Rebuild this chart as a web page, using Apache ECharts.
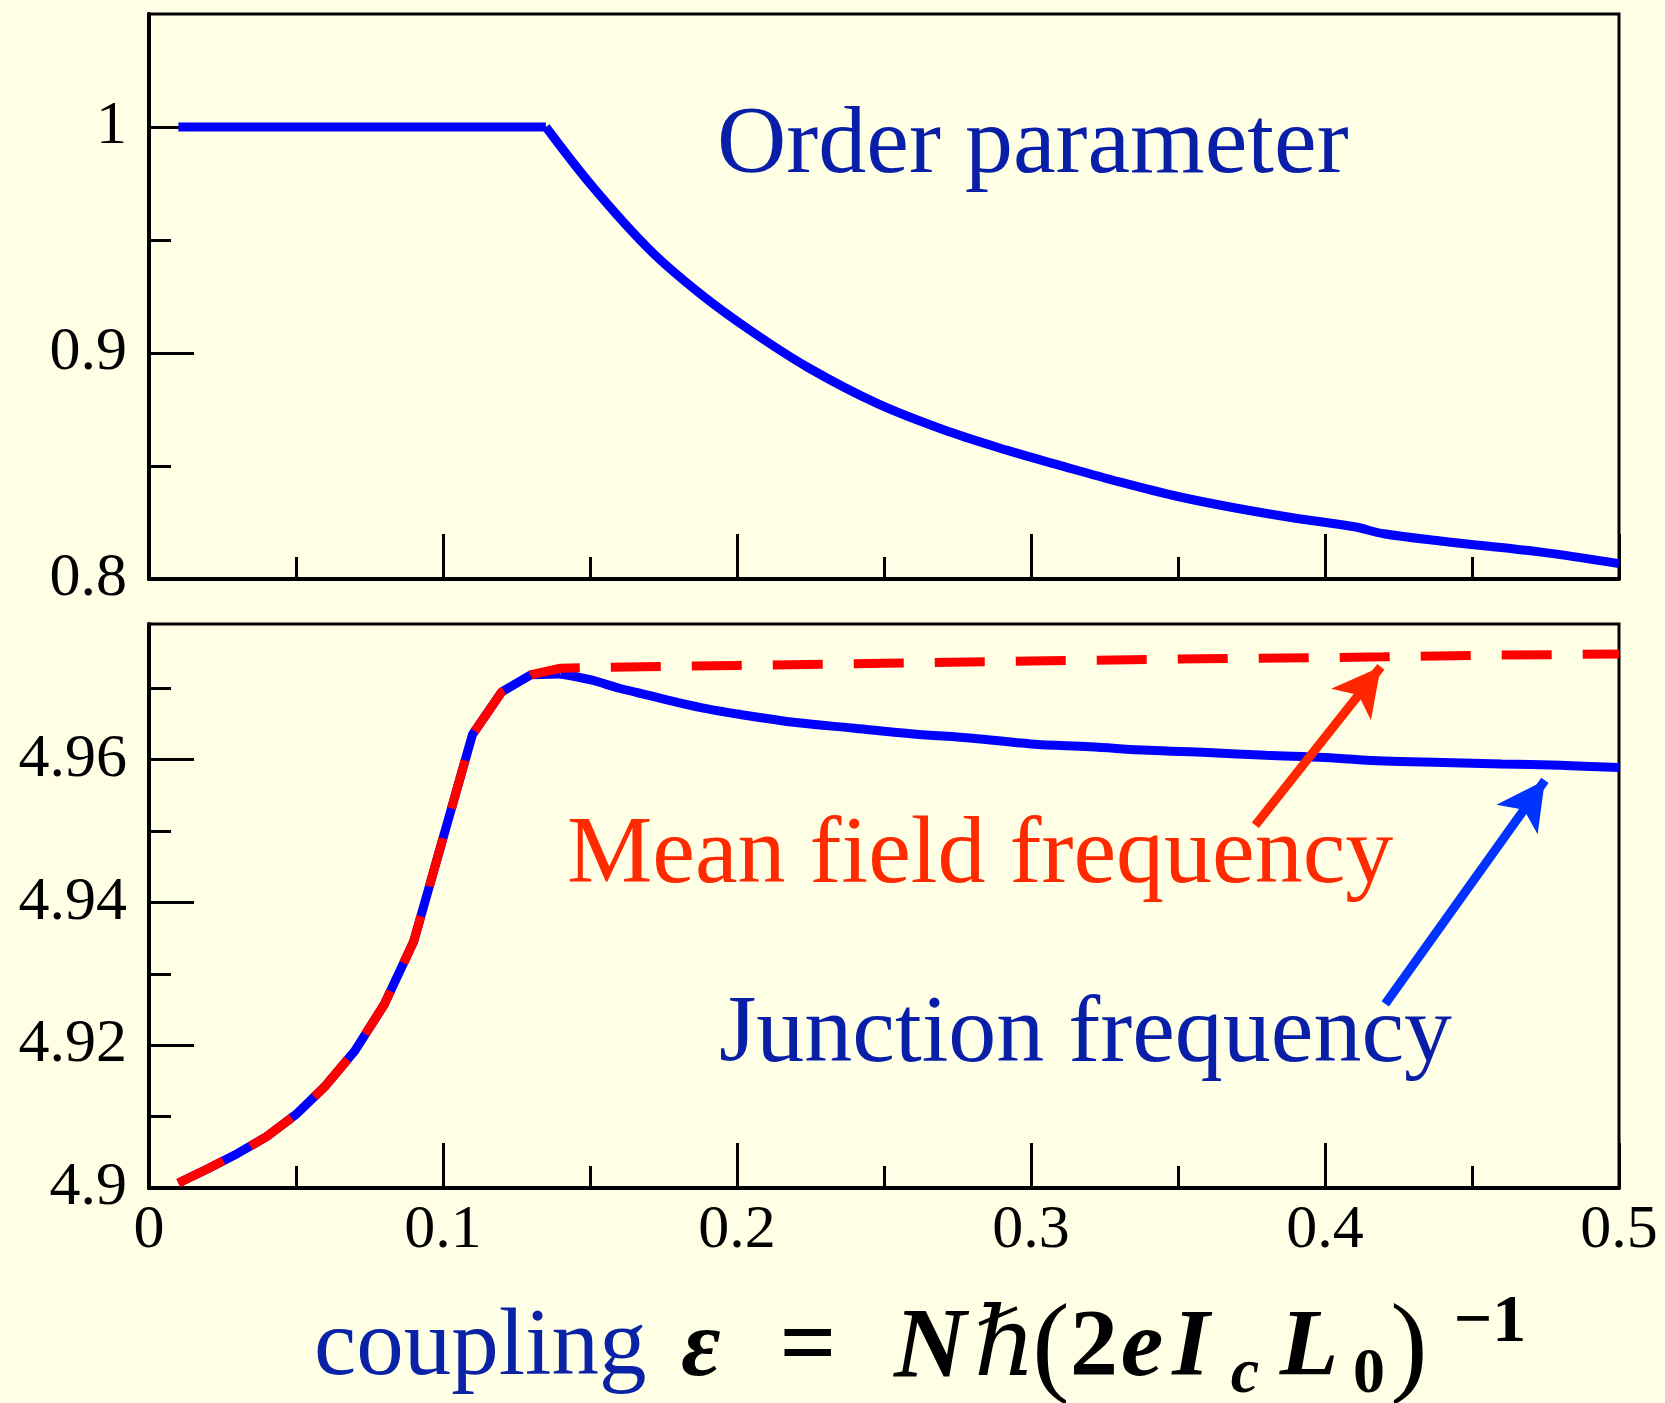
<!DOCTYPE html>
<html>
<head>
<meta charset="utf-8">
<style>
  html, body { margin: 0; padding: 0; background: #ffffe6; }
  #chart { width: 1665px; height: 1403px; }
</style>
<script src="https://cdn.jsdelivr.net/npm/echarts@6/dist/echarts.min.js"></script>
</head>
<body>
<div id="chart"></div>
<script>
// ---------- data ----------
const xTicks = [0, 0.1, 0.2, 0.3, 0.4, 0.5];

// top panel: order parameter (index 1 is the knee where the decay starts)
const orderX = [0.01, 0.135, 0.151, 0.1705, 0.1875, 0.2045, 0.224, 0.248, 0.2725, 0.292, 0.31, 0.33, 0.35, 0.37, 0.39, 0.41, 0.42, 0.44, 0.473, 0.5];
const orderY = [1.0, 1.0, 0.9734, 0.9454, 0.9262, 0.910, 0.8937, 0.8775, 0.865, 0.8569, 0.8502, 0.8430, 0.8365, 0.8313, 0.8269, 0.8231, 0.8200, 0.8167, 0.812, 0.8068];
const orderKnee = 1;
const topMajorTicks = [0.8, 0.9, 1.0];
const topMinorTicks = [0.85, 0.95];

// bottom panel: junction frequency (solid blue); index 13 (x = 0.14) is the peak
const junctionX = [0.01, 0.02, 0.03, 0.04, 0.05, 0.06, 0.07, 0.08, 0.09, 0.10, 0.11, 0.12, 0.13, 0.14,
                   0.15, 0.16, 0.17, 0.18, 0.19, 0.20, 0.22, 0.24, 0.26, 0.28, 0.30, 0.32, 0.34, 0.36,
                   0.38, 0.40, 0.42, 0.44, 0.46, 0.48, 0.50];
const junctionY = [4.9007, 4.9027, 4.9048, 4.9072, 4.9103, 4.9143, 4.9192, 4.9257, 4.9345, 4.9490, 4.9635, 4.9695, 4.9719, 4.9720,
                   4.9712, 4.9700, 4.9690, 4.9680, 4.9671, 4.9664, 4.9652, 4.9644, 4.9636, 4.9630, 4.9622, 4.9618, 4.9613, 4.9610,
                   4.9606, 4.9603, 4.9598, 4.9596, 4.9594, 4.9592, 4.9589];
const junctionPeak = 13;

// bottom panel: mean field frequency (dashed red)
const meanX = [0.01, 0.02, 0.03, 0.04, 0.05, 0.06, 0.07, 0.08, 0.09, 0.10, 0.11, 0.12, 0.13, 0.14,
               0.15, 0.20, 0.25, 0.30, 0.35, 0.40, 0.42, 0.45, 0.50];
const meanY = [4.9007, 4.9027, 4.9048, 4.9072, 4.9103, 4.9143, 4.9192, 4.9257, 4.9345, 4.9490, 4.9635, 4.9695, 4.9719, 4.9728,
               4.9729, 4.9732, 4.9735, 4.9738, 4.9741, 4.9743, 4.9744, 4.9746, 4.9748];
const bottomMajorTicks = [4.9, 4.92, 4.94, 4.96];
const bottomMinorTicks = [4.91, 4.93, 4.95, 4.97];

// annotation arrows (data coordinates: [tail, tip])
const redArrow = [[0.3763, 4.9508], [0.419, 4.973]];
const blueArrow = [[0.4205, 4.9258], [0.4748, 4.9571]];

// ---------- chart ----------
const FONT = "'Liberation Serif', 'Times New Roman', 'DejaVu Serif', serif";
const zip = (xs, ys) => xs.map((x, i) => [x, ys[i]]);

const chart = echarts.init(document.getElementById('chart'), null, { renderer: 'canvas' });

const axisLineStyle = { color: '#000', width: 4 };
const tickStyle = { color: '#000', width: 3 };

function xAxisFor(gridIndex, showLabels) {
  return {
    gridIndex, type: 'value', min: 0, max: 0.5, interval: 0.1,
    axisLine: { show: true, onZero: false, lineStyle: axisLineStyle },
    axisTick: { show: true, inside: true, length: 45, lineStyle: tickStyle },
    minorTick: { show: true, splitNumber: 2, length: 22, lineStyle: tickStyle },
    axisLabel: { show: showLabels, fontFamily: FONT, fontSize: 62, color: '#000', margin: 12 },
    splitLine: { show: false }, minorSplitLine: { show: false }
  };
}
function yMajor(gridIndex, min, max, ticks) {
  return {
    gridIndex, type: 'value', min, max, position: 'left',
    axisLine: { show: true, onZero: false, lineStyle: axisLineStyle },
    axisTick: { show: true, inside: true, length: 45, lineStyle: tickStyle, customValues: ticks },
    axisLabel: { show: true, fontFamily: FONT, fontSize: 62, color: '#000', margin: 22, customValues: ticks },
    splitLine: { show: false }
  };
}
function yMinor(gridIndex, min, max, ticks) {
  return {
    gridIndex, type: 'value', min, max, position: 'left', offset: 0,
    axisLine: { show: false },
    axisTick: { show: true, inside: true, length: 22, lineStyle: tickStyle, customValues: ticks },
    axisLabel: { show: false },
    splitLine: { show: false }
  };
}

const mainText = { fontFamily: FONT, fontWeight: 'bold', fontStyle: 'italic', fontSize: 96, fill: '#000', align: 'center' };
function t(text, x, y, extra) {
  const st = Object.assign({}, mainText, extra || {});
  return {
    type: 'text', x, y, silent: true,
    style: {
      text, fill: st.fill,
      font: `${st.fontStyle} ${st.fontWeight} ${st.fontSize}px ${st.family || FONT}`,
      align: st.align, verticalAlign: 'middle'
    }
  };
}
const plain = (size, fill) => ({ fontWeight: 'normal', fontStyle: 'normal', fontSize: size, fill, align: 'left' });

const blueLine = { color: '#0000ff', width: 9 };

const option = {
  backgroundColor: '#ffffe6',
  animation: false,
  grid: [
    { left: 149, right: 46, top: 14, height: 565, show: true, borderColor: '#000', borderWidth: 3,
      backgroundColor: 'transparent', containLabel: false, outerBoundsMode: 'none' },
    { left: 149, right: 46, top: 624, height: 564, show: true, borderColor: '#000', borderWidth: 3,
      backgroundColor: 'transparent', containLabel: false, outerBoundsMode: 'none' }
  ],
  xAxis: [xAxisFor(0, false), xAxisFor(1, true)],
  yAxis: [
    yMajor(0, 0.8, 1.05, topMajorTicks),
    yMinor(0, 0.8, 1.05, topMinorTicks),
    yMajor(1, 4.9, 4.979, bottomMajorTicks),
    yMinor(1, 4.9, 4.979, bottomMinorTicks)
  ],
  series: [
    {
      name: 'Order parameter', type: 'line', xAxisIndex: 0, yAxisIndex: 0,
      data: zip(orderX, orderY).slice(0, orderKnee + 1), symbol: 'none', smooth: false,
      lineStyle: blueLine, z: 3
    },
    {
      name: 'Order parameter decay', type: 'line', xAxisIndex: 0, yAxisIndex: 0,
      data: zip(orderX, orderY).slice(orderKnee), symbol: 'none', smooth: 0.35,
      lineStyle: blueLine, z: 3
    },
    {
      name: 'Junction frequency', type: 'line', xAxisIndex: 1, yAxisIndex: 2,
      data: zip(junctionX, junctionY).slice(0, junctionPeak + 1), symbol: 'none', smooth: false,
      lineStyle: blueLine, z: 3
    },
    {
      name: 'Junction frequency decay', type: 'line', xAxisIndex: 1, yAxisIndex: 2,
      data: zip(junctionX, junctionY).slice(junctionPeak), symbol: 'none', smooth: 0.35,
      lineStyle: blueLine, z: 3,
      markLine: {
        silent: true, animation: false,
        symbol: ['none', 'arrow'], symbolSize: [38, 48],
        label: { show: false },
        lineStyle: { type: 'solid', width: 9 },
        data: [
          [ { coord: redArrow[0], lineStyle: { color: '#ff2600', type: 'solid', width: 9 }, itemStyle: { color: '#ff2600' } },
            { coord: redArrow[1], lineStyle: { color: '#ff2600', type: 'solid', width: 9 }, itemStyle: { color: '#ff2600' } } ],
          [ { coord: blueArrow[0], lineStyle: { color: '#0033ff', type: 'solid', width: 9 }, itemStyle: { color: '#0033ff' } },
            { coord: blueArrow[1], lineStyle: { color: '#0033ff', type: 'solid', width: 9 }, itemStyle: { color: '#0033ff' } } ]
        ]
      }
    },
    {
      name: 'Mean field frequency', type: 'line', xAxisIndex: 1, yAxisIndex: 2,
      data: zip(meanX, meanY), symbol: 'none', smooth: false,
      lineStyle: { color: '#ff0000', width: 9, type: [50, 31], cap: 'butt' }, z: 4
    }
  ],
  graphic: [
    t('Order parameter', 717, 147, plain(96, '#0a1fa8')),
    t('Mean field frequency', 567, 857, plain(96, '#ff2a00')),
    t('Junction frequency', 719, 1036, plain(96, '#0a1fa8')),
    // x-axis title: coupling ε = Nℏ(2e I_c L_0)^{-1}
    t('coupling', 314, 1349, plain(95, '#0a23a6')),
    t('ε', 701, 1350),
    t('=', 808, 1350, { fontStyle: 'normal', fontSize: 100 }),
    t('N', 930, 1350, { fontSize: 100 }),
    t('ℏ', 1005, 1350, { fontWeight: 'normal', fontSize: 96, family: "'DejaVu Serif', serif" }),
    t('(', 1051, 1352, { fontStyle: 'normal', fontWeight: 'normal', fontSize: 112 }),
    t('2', 1094, 1350, { fontStyle: 'normal' }),
    t('e', 1142, 1350),
    t('I', 1191, 1350),
    t('c', 1245, 1375, { fontSize: 64 }),
    t('L', 1309, 1350),
    t('0', 1369, 1375, { fontStyle: 'normal', fontSize: 64 }),
    t(')', 1409, 1352, { fontStyle: 'normal', fontWeight: 'normal', fontSize: 112 }),
    t('−1', 1490, 1323, { fontStyle: 'normal', fontSize: 68 })
  ]
};

chart.setOption(option);
</script>
</body>
</html>
